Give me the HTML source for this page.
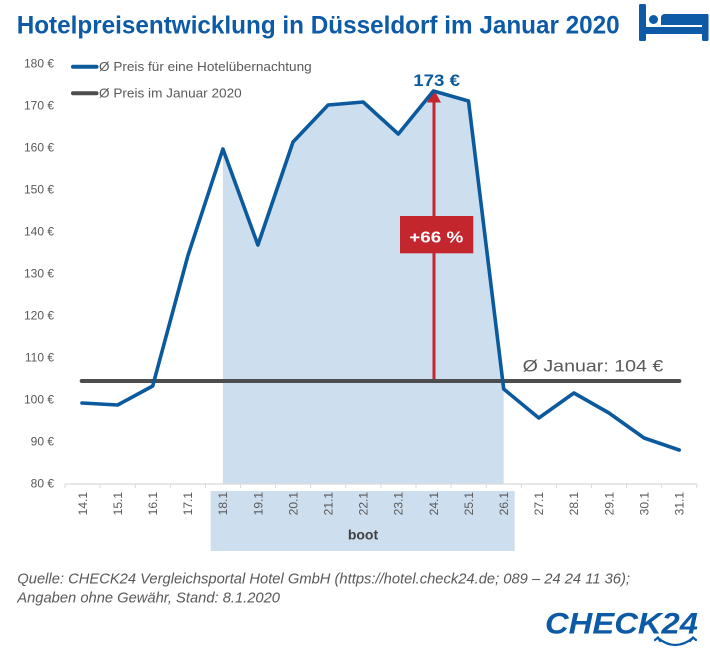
<!DOCTYPE html>
<html>
<head>
<meta charset="utf-8">
<style>
html,body{margin:0;padding:0;background:#fff;}
svg{display:block;}
text{font-family:"Liberation Sans",Arial,sans-serif;}
</style>
</head>
<body>
<svg width="710" height="650" viewBox="0 0 710 650" xmlns="http://www.w3.org/2000/svg">
<rect width="710" height="650" fill="#fff"/>

<!-- Title -->
<text x="16.7" y="33.3" font-size="25" font-weight="bold" fill="#0d5aa7" textLength="603" lengthAdjust="spacingAndGlyphs">Hotelpreisentwicklung in Düsseldorf im Januar 2020</text>

<!-- Bed icon -->
<g fill="#0d5aa7">
  <rect x="639" y="4" width="7" height="37" rx="1.5"/>
  <rect x="702" y="14" width="6.5" height="27" rx="1.5"/>
  <rect x="639" y="27" width="69.5" height="7"/>
  <circle cx="653.5" cy="19.5" r="4.5"/>
  <path d="M661,25 L661,18 Q661,14 665,14 L708,14 L708,25 Z"/>
</g>

<!-- Y axis labels -->
<g font-size="12" fill="#595959" text-anchor="end">
  <text x="54" y="67.3">180 €</text>
  <text x="54" y="109.3">170 €</text>
  <text x="54" y="151.3">160 €</text>
  <text x="54" y="193.3">150 €</text>
  <text x="54" y="235.3">140 €</text>
  <text x="54" y="277.3">130 €</text>
  <text x="54" y="319.3">120 €</text>
  <text x="54" y="361.3">110 €</text>
  <text x="54" y="403.3">100 €</text>
  <text x="54" y="445.3">90 €</text>
  <text x="54" y="487.3">80 €</text>
</g>

<!-- Shaded area under line (18.1 - 26.1) -->
<polygon fill="#cddfef" points="222.9,149 257.9,245 293.0,142 328.1,105 363.2,102 398.3,134 433.4,91 468.5,101 503.7,389 503.7,484 222.9,484"/>

<!-- Band below axis -->
<rect x="210.7" y="491" width="304" height="60" fill="#cddfef"/>
<text x="363" y="539.3" font-size="14" font-weight="bold" fill="#404040" text-anchor="middle">boot</text>

<!-- X axis line and ticks -->
<line x1="65" y1="484" x2="697" y2="484" stroke="#d9d9d9" stroke-width="1.2"/>
<g stroke="#d9d9d9" stroke-width="1">
  <line x1="65" y1="484" x2="65" y2="488"/>
  <line x1="100.1" y1="484" x2="100.1" y2="488"/>
  <line x1="135.2" y1="484" x2="135.2" y2="488"/>
  <line x1="170.3" y1="484" x2="170.3" y2="488"/>
  <line x1="205.4" y1="484" x2="205.4" y2="488"/>
  <line x1="240.5" y1="484" x2="240.5" y2="488"/>
  <line x1="275.6" y1="484" x2="275.6" y2="488"/>
  <line x1="310.7" y1="484" x2="310.7" y2="488"/>
  <line x1="345.8" y1="484" x2="345.8" y2="488"/>
  <line x1="380.9" y1="484" x2="380.9" y2="488"/>
  <line x1="416" y1="484" x2="416" y2="488"/>
  <line x1="451.1" y1="484" x2="451.1" y2="488"/>
  <line x1="486.2" y1="484" x2="486.2" y2="488"/>
  <line x1="521.3" y1="484" x2="521.3" y2="488"/>
  <line x1="556.4" y1="484" x2="556.4" y2="488"/>
  <line x1="591.5" y1="484" x2="591.5" y2="488"/>
  <line x1="626.6" y1="484" x2="626.6" y2="488"/>
  <line x1="661.7" y1="484" x2="661.7" y2="488"/>
  <line x1="696.8" y1="484" x2="696.8" y2="488"/>
</g>

<!-- X labels -->
<g font-size="12" fill="#595959" text-anchor="end">
  <text transform="translate(86.8,492) rotate(-90)">14.1</text>
  <text transform="translate(121.9,492) rotate(-90)">15.1</text>
  <text transform="translate(157.0,492) rotate(-90)">16.1</text>
  <text transform="translate(192.1,492) rotate(-90)">17.1</text>
  <text transform="translate(227.2,492) rotate(-90)">18.1</text>
  <text transform="translate(262.3,492) rotate(-90)">19.1</text>
  <text transform="translate(297.4,492) rotate(-90)">20.1</text>
  <text transform="translate(332.5,492) rotate(-90)">21.1</text>
  <text transform="translate(367.6,492) rotate(-90)">22.1</text>
  <text transform="translate(402.7,492) rotate(-90)">23.1</text>
  <text transform="translate(437.8,492) rotate(-90)">24.1</text>
  <text transform="translate(472.9,492) rotate(-90)">25.1</text>
  <text transform="translate(508.0,492) rotate(-90)">26.1</text>
  <text transform="translate(543.1,492) rotate(-90)">27.1</text>
  <text transform="translate(578.2,492) rotate(-90)">28.1</text>
  <text transform="translate(613.3,492) rotate(-90)">29.1</text>
  <text transform="translate(648.4,492) rotate(-90)">30.1</text>
  <text transform="translate(683.5,492) rotate(-90)">31.1</text>
</g>

<!-- Red arrow -->
<line x1="434" y1="381" x2="434" y2="100" stroke="#c4262e" stroke-width="3"/>
<polygon points="434,89.5 427,102.5 441,102.5" fill="#c4262e"/>

<!-- Average line -->
<line x1="81.7" y1="381" x2="679.3" y2="381" stroke="#4d4d4d" stroke-width="4" stroke-linecap="round"/>

<!-- Main line -->
<polyline fill="none" stroke="#0b5a9e" stroke-width="3.6" stroke-linejoin="round" stroke-linecap="round"
 points="82,403 117.6,405 152.7,386 187.8,256 222.9,149 257.9,245 293.0,142 328.1,105 363.2,102 398.3,134 433.4,91 468.5,101 503.7,389 538.8,418 573.9,393 609.0,413 644.1,438 679.2,450"/>

<!-- +66 % box -->
<rect x="400" y="216" width="73.3" height="37.3" fill="#c4262e"/>
<text x="409.3" y="242.3" font-size="16" font-weight="bold" fill="#fff" textLength="54" lengthAdjust="spacingAndGlyphs">+66 %</text>

<!-- 173 € label -->
<text x="413.3" y="86" font-size="17" font-weight="bold" fill="#0b5a9e" textLength="46.7" lengthAdjust="spacingAndGlyphs">173 €</text>

<!-- Ø Januar label -->
<text x="522.7" y="371.7" font-size="17" fill="#595959" textLength="140.6" lengthAdjust="spacingAndGlyphs">Ø Januar: 104 €</text>

<!-- Legend -->
<line x1="73" y1="66.7" x2="96.5" y2="66.7" stroke="#0b5a9e" stroke-width="4" stroke-linecap="round"/>
<text x="99" y="71" font-size="13" fill="#595959" textLength="212.7" lengthAdjust="spacingAndGlyphs">Ø Preis für eine Hotelübernachtung</text>
<line x1="73" y1="93.3" x2="96.5" y2="93.3" stroke="#4d4d4d" stroke-width="4" stroke-linecap="round"/>
<text x="99" y="97.5" font-size="13" fill="#595959" textLength="142.7" lengthAdjust="spacingAndGlyphs">Ø Preis im Januar 2020</text>

<!-- Footer -->
<text x="17.3" y="583.3" font-size="15" font-style="italic" fill="#595959" textLength="612.7" lengthAdjust="spacingAndGlyphs">Quelle: CHECK24 Vergleichsportal Hotel GmbH (https://hotel.check24.de; 089 – 24 24 11 36);</text>
<text x="17.3" y="602.7" font-size="15" font-style="italic" fill="#595959" textLength="262.7" lengthAdjust="spacingAndGlyphs">Angaben ohne Gewähr, Stand: 8.1.2020</text>

<!-- CHECK24 logo -->
<text x="545" y="633.7" font-size="30" font-weight="bold" font-style="italic" fill="#0c5aa6" textLength="153" lengthAdjust="spacingAndGlyphs">CHECK24</text>
<g fill="none" stroke="#0c5aa6" stroke-width="2.2" stroke-linecap="round">
  <path d="M658,638 Q675,652 693,638"/>
  <path d="M655,640 L658,637.5 L660,641"/>
  <path d="M690,641 L693,637.5 L696,640"/>
</g>
</svg>
</body>
</html>
